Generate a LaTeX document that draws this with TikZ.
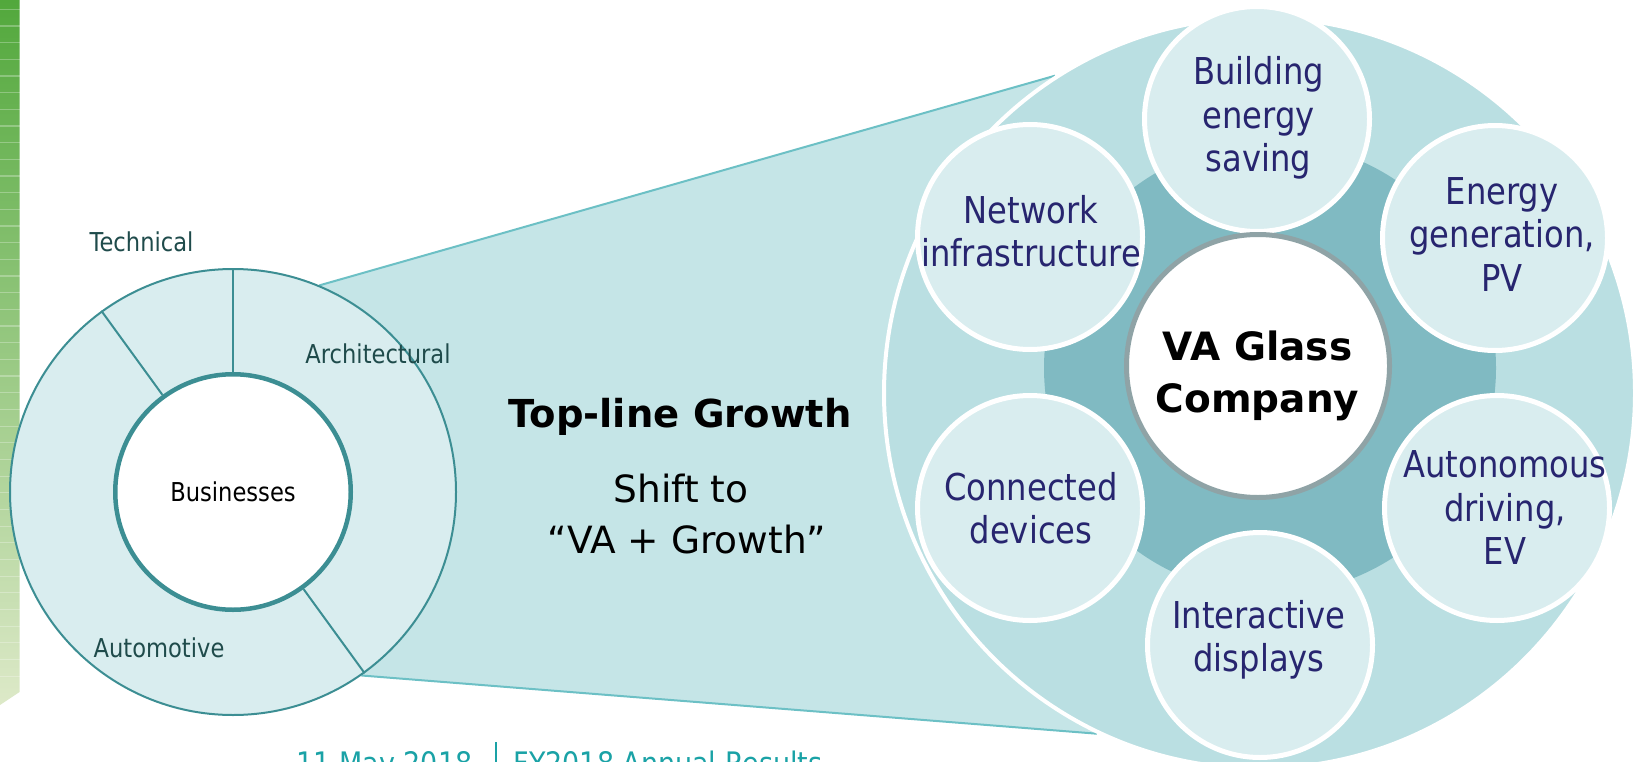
\documentclass[tikz,border=0pt]{standalone}
\usepackage{fontspec}
\setmainfont{DejaVu Sans}
\newfontfamily\narrowsans{DejaVu Sans}[FakeStretch=0.87]
\newfontfamily\widesans{DejaVu Sans}
\usetikzlibrary{calc}

\definecolor{barTop}{HTML}{52A83C}
\definecolor{barMid}{HTML}{93C25E}
\definecolor{barBot}{HTML}{DDE9C8}
\definecolor{paleTeal}{HTML}{D9EDEF}
\definecolor{funnelTeal}{HTML}{C5E5E7}
\definecolor{lensTeal}{HTML}{BADFE2}
\definecolor{hubTeal}{HTML}{80BAC2}
\definecolor{rimTeal}{HTML}{3C8E93}
\definecolor{edgeTeal}{HTML}{6CC0C5}
\definecolor{hubRim}{HTML}{8FA3A6}
\definecolor{labelInk}{HTML}{1F4B4B}
\definecolor{navyInk}{HTML}{27256F}
\definecolor{footInk}{HTML}{1AA2A6}

\tikzset{
  petal/.style={circle, fill=paleTeal, draw=white, line width=5pt, minimum size=225pt, inner sep=0pt},
  petaltext/.style={text=navyInk, align=center, inner sep=0pt,
    font=\narrowsans\fontsize{37}{43.5}\selectfont},
  seglabel/.style={text=labelInk, inner sep=0pt, anchor=base,
    font=\narrowsans\fontsize{26}{30}\selectfont},
  midtext/.style={text=black, inner sep=0pt, anchor=base,
    font=\widesans\fontsize{37.5}{44}\selectfont},
  foottext/.style={text=footInk, inner sep=0pt, anchor=base,
    font=\narrowsans\fontsize{31}{36}\selectfont},
  funneledge/.style={draw=edgeTeal, line width=2pt},
}

\begin{document}
\begin{tikzpicture}[x=1pt, y=-1pt]
\useasboundingbox (0,0) rectangle (1637,762);
\clip (0,0) rectangle (1637,762);

% green side bar with faint stripes
\shade[top color=barTop, middle color=barMid, bottom color=barBot]
  (0,0) -- (19.5,0) -- (19.5,692) -- (0,705) -- cycle;
\foreach \k in {0,...,40}
  \draw[white, opacity=0.28, line width=1.1pt] (0,9.3+16.67*\k) -- (19.5,9.3+16.67*\k);

% centres of the donut and of the large lens
\coordinate (dc) at (233,492);
\coordinate (lc) at (1259.5,393);

% zoom funnel from the donut to the lens
\coordinate (f1) at ($(dc)+(67.3:224pt)$);
\coordinate (f4) at ($(dc)+(-55:224pt)$);
\coordinate (f2) at ($(lc)+(122.8:377.5pt)$);
\coordinate (f3) at ($(lc)+(-115.5:377.5pt)$);
\fill[funnelTeal] (f1) -- (f2) -- (f3) -- (f4) -- cycle;
\draw[funneledge] (f1) -- (f2);
\draw[funneledge] (f4) -- (f3);

% lens and hub
\node[circle, fill=lensTeal, draw=white, line width=4pt, minimum size=751pt, inner sep=0pt] (lens) at (lc) {};
\node[circle, fill=hubTeal, minimum size=452pt, inner sep=0pt] (hub) at (1270,368) {};

% six application circles
\node[petal] (build) at (1257,119) {};
\node[petal] (energy) at (1495,238) {};
\node[petal] (auto) at (1497,508) {};
\node[petal] (inter) at (1260,645) {};
\node[petal] (conn) at (1030,508) {};
\node[petal] (net) at (1030,237) {};

\node[petaltext] (buildT) at (1258.5,118) {Building\\energy\\saving};
\node[petaltext] (energyT) at (1502,234.5) {Energy\\generation,\\PV};
\node[petaltext] (autoT) at (1505,508) {Autonomous\\driving,\\EV};
\node[petaltext] (interT) at (1259,640) {Interactive\\displays};
\node[petaltext] (connT) at (1031,508) {Connected\\devices};
\node[petaltext] (netT) at (1031,231) {Network\\infrastructure};

% company hub
\node[circle, fill=white, draw=hubRim, line width=5pt, minimum size=263pt, inner sep=0pt] (core) at (1258,366) {};
\node[align=center, inner sep=0pt, font=\widesans\bfseries\fontsize{39}{52}\selectfont] (coreT) at (1257.5,376) {VA Glass\\Company};

% businesses donut
\node[circle, fill=paleTeal, draw=rimTeal, line width=2pt, minimum size=446pt, inner sep=0pt] (donut) at (dc) {};
\node[circle, fill=white, draw=rimTeal, line width=4.5pt, minimum size=235.5pt, inner sep=0pt,
      font=\narrowsans\fontsize{26}{30}\selectfont] (biz) at (dc) {Businesses};
\draw[rimTeal, line width=2pt] (biz.90) -- (donut.90);
\draw[rimTeal, line width=2pt] (biz.126) -- (donut.126);
\draw[rimTeal, line width=2pt] (biz.-54) -- (donut.-54);

\node[seglabel] (techL) at (141.5,251) {Technical};
\node[seglabel] (archL) at (378,363) {Architectural};
\node[seglabel] (autoL) at (159,657) {Automotive};

% headline between the two charts
\node[inner sep=0pt, anchor=base, font=\widesans\bfseries\fontsize{38.5}{46}\selectfont] (head) at (680,427) {Top-line Growth};
\node[midtext] (shiftA) at (681,502) {Shift to};
\node[midtext] (shiftB) at (687,553) {“VA + Growth”};

% footer
\node[foottext] (date) at (384.5,774.6) {11 May 2018};
\node[foottext] (event) at (668,774.6) {FY2018 Annual Results};
\coordinate (sepTop) at (496,742);
\coordinate (sepBot) at (496,770);
\draw[footInk, line width=1.5pt] (sepTop) -- (sepBot);
\end{tikzpicture}
\end{document}
